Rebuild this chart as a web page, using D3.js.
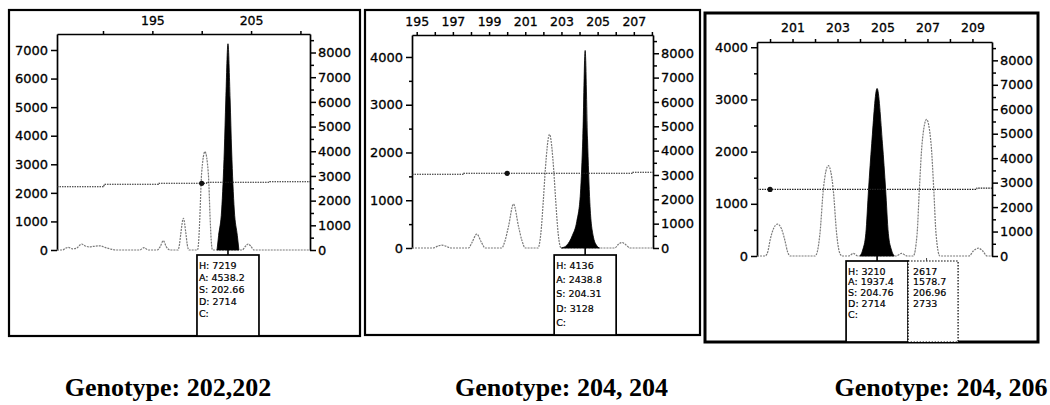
<!DOCTYPE html>
<html>
<head>
<meta charset="utf-8">
<script src="https://cdn.jsdelivr.net/npm/d3@7"></script>
<style>
  html, body { margin: 0; padding: 0; background: #fff; }
  svg { display: block; }
</style>
</head>
<body>
<svg id="chart" width="1050" height="405"></svg>
<script>
// Electropherogram panels for three genotypes.
// Each trace point is [size (bp), height (RFU)].

// ---- panel A : Genotype 202,202 ----
const sizeTicksA = [190, 195, 200, 205, 210];
const sizeLabelsA = [195, 205];
const heightTicksA = [0, 1000, 2000, 3000, 4000, 5000, 6000, 7000];
const heightMinorA = [];
const traceA = [
  [185.34, 0], [185.9, 0], [186.2, 60], [186.5, 95], [186.9, 40], [187.3, 60],
  [187.84, 210], [188.2, 140], [188.6, 110], [189.1, 130], [189.7, 145], [190.2, 90],
  [190.8, 30], [191.3, 0], [193.7, 0], [194.15, 80], [194.6, 0], [195.5, 0],
  [195.8, 120], [196.11, 330], [196.4, 120], [196.8, 0], [197.6, 0], [197.75, 200],
  [197.89, 600], [198.14, 1108], [198.39, 600], [198.53, 200], [198.7, 0], [199.57, 0],
  [199.7, 350], [199.8, 1050], [199.99, 2680], [200.33, 3441], [200.67, 2680], [200.86, 1050],
  [200.96, 350], [201.1, 0], [201.55, 0], [203.8, 0], [204.1, 0], [204.4, 120],
  [204.72, 210], [205.0, 120], [205.3, 0], [210.97, 0]
];
const peakA = [
  [201.55, 0], [201.71, 500], [202.02, 1400], [202.29, 3500], [202.44, 5250], [202.66, 7219],
  [202.88, 5250], [203.03, 3500], [203.3, 1400], [203.61, 500], [203.77, 0]
];
const thresholdA = [[185.34, 2215], [190.1, 2300], [195.6, 2335], [200.5, 2370], [206.9, 2390], [210.97, 2390]];
const calledA = [202.66];
const infoA = [["H: 7219", "A: 4538.2", "S: 202.66", "D: 2714", "C:"]];

// ---- panel B : Genotype 204, 204 ----
const sizeTicksB = [195, 196, 197, 198, 199, 200, 201, 202, 203, 204, 205, 206, 207, 208];
const sizeLabelsB = [195, 197, 199, 201, 203, 205, 207];
const heightTicksB = [0, 1000, 2000, 3000, 4000];
const heightMinorB = [500, 1500, 2500, 3500];
const traceB = [
  [194.74, 0], [195.9, 0], [196.2, 45], [196.38, 60], [196.6, 40], [196.9, 0],
  [197.86, 0], [198.05, 110], [198.32, 290], [198.59, 110], [198.78, 0], [199.7, 0],
  [199.88, 150], [200.07, 446], [200.35, 920], [200.63, 446], [200.82, 150], [201.0, 0],
  [201.7, 0], [201.86, 300], [202.0, 1005], [202.11, 1650], [202.34, 2380], [202.57, 1650],
  [202.68, 1005], [202.82, 300], [202.98, 0], [205.1, 0], [205.95, 0], [206.15, 80],
  [206.35, 115], [206.55, 70], [206.8, 0], [208.06, 0]
];
const peakB = [
  [203.0, 0], [203.3, 60], [203.6, 260], [203.85, 560], [204.05, 1150], [204.18, 2300],
  [204.31, 4136], [204.44, 2300], [204.57, 950], [204.75, 260], [204.95, 50], [205.1, 0]
];
const thresholdB = [[194.74, 1543], [197.6, 1564], [206.9, 1585], [208.06, 1585]];
const calledB = [204.31];
const infoB = [["H: 4136", "A: 2438.8", "S: 204.31", "D: 3128", "C:"]];

// ---- panel C : Genotype 204, 206 ----
const sizeTicksC = [200, 201, 202, 203, 204, 205, 206, 207, 208, 209];
const sizeLabelsC = [201, 203, 205, 207, 209];
const heightTicksC = [0, 1000, 2000, 3000, 4000];
const heightMinorC = [500, 1500, 2500, 3500];
const traceC = [
  [199.42, 0], [199.78, 0], [199.9, 80], [200.0, 300], [200.15, 520], [200.33, 612],
  [200.51, 520], [200.66, 300], [200.78, 80], [200.9, 0], [202.0, 0], [202.1, 80],
  [202.22, 434], [202.37, 1276], [202.59, 1730], [202.81, 1276], [202.96, 434], [203.08, 80],
  [203.2, 0], [203.5, 0], [203.7, 50], [203.9, 0], [205.6, 0], [205.85, 50],
  [206.1, 0], [206.37, 0], [206.54, 430], [206.64, 1280], [206.76, 2150], [206.96, 2617],
  [207.16, 2150], [207.28, 1280], [207.38, 430], [207.55, 0], [208.85, 0], [209.05, 100],
  [209.26, 150], [209.45, 100], [209.65, 0], [209.87, 0]
];
const peakC = [
  [204.0, 0], [204.12, 115], [204.26, 434], [204.38, 1276], [204.52, 2150], [204.76, 3210],
  [205.0, 2150], [205.14, 1276], [205.26, 434], [205.4, 115], [205.52, 0]
];
const thresholdC = [[199.42, 1276], [209.2, 1300], [209.87, 1300]];
const calledC = [204.76, 206.96];
const infoC = [
  ["H: 3210", "A: 1937.4", "S: 204.76", "D: 2714", "C:"],
  ["2617", "1578.7", "206.96", "2733", ""]
];

// ---- shared ----
const rightTicks = [0, 1000, 2000, 3000, 4000, 5000, 6000, 7000, 8000];
const rightMinor = [500, 1500, 2500, 3500, 4500, 5500, 6500, 7500, 8500];
const rightMax = 8750;
const markerSize = 200;
const captions = ["Genotype: 202,202", "Genotype: 204, 204", "Genotype: 204, 206"];

// ---- layout (pixels) ----
const panels = [
  { frame: [9, 10, 360, 336], fw: 2.2, plot: { l: 57, r: 310, t: 34, b: 250 },
    xDomain: [185.34, 210.97], yMax: 7560, topPad: 6, boxGap: 5, rowStep: 12.2, capX: 168,
    sizeTicks: sizeTicksA, sizeLabels: sizeLabelsA, heightTicks: heightTicksA, heightMinor: heightMinorA,
    trace: traceA, peak: peakA, threshold: thresholdA, called: calledA, info: infoA },
  { frame: [365, 10, 700, 335], fw: 2.2, plot: { l: 412, r: 653, t: 35, b: 248 },
    xDomain: [194.74, 208.06], yMax: 4460, topPad: 6, boxGap: 7, rowStep: 14.4, capX: 561.5,
    sizeTicks: sizeTicksB, sizeLabels: sizeLabelsB, heightTicks: heightTicksB, heightMinor: heightMinorB,
    trace: traceB, peak: peakB, threshold: thresholdB, called: calledB, info: infoB },
  { frame: [705, 13, 1038, 342], fw: 3, plot: { l: 757, r: 992, t: 42, b: 256 },
    xDomain: [199.42, 209.87], yMax: 4100, topPad: 7.5, boxGap: 5, rowStep: 10.8, capX: 941,
    sizeTicks: sizeTicksC, sizeLabels: sizeLabelsC, heightTicks: heightTicksC, heightMinor: heightMinorC,
    trace: traceC, peak: peakC, threshold: thresholdC, called: calledC, info: infoC }
];

const svg = d3.select('#chart');
const AXIS_FONT = '"DejaVu Sans", sans-serif';

function styleAxis(g, size) {
  g.attr('font-family', AXIS_FONT).attr('font-size', size);
  g.select('.domain').attr('stroke', '#000').attr('stroke-width', 1.7);
  g.selectAll('.tick line').attr('stroke', '#000').attr('stroke-width', 1.5);
  // scanned print looks slightly heavy
  g.selectAll('.tick text').attr('fill', '#000').attr('stroke', '#000').attr('stroke-width', 0.3);
}

function drawPanel(p, i) {
  const g = svg.append('g');
  const [fx0, fy0, fx1, fy1] = p.frame;

  // outer frame
  g.append('rect')
    .attr('x', fx0).attr('y', fy0)
    .attr('width', fx1 - fx0).attr('height', fy1 - fy0)
    .attr('fill', 'none').attr('stroke', '#000').attr('stroke-width', p.fw);

  const x = d3.scaleLinear().domain(p.xDomain).range([p.plot.l, p.plot.r]);
  const y = d3.scaleLinear().domain([0, p.yMax]).range([p.plot.b, p.plot.t]);
  const yR = d3.scaleLinear().domain([0, rightMax]).range([p.plot.b, p.plot.t]);

  // top size axis
  g.append('g')
    .attr('transform', `translate(0,${p.plot.t})`)
    .call(d3.axisTop(x).tickValues(p.sizeTicks).tickSize(3).tickSizeOuter(0).tickPadding(p.topPad)
      .tickFormat(d => p.sizeLabels.includes(d) ? d : ''))
    .call(ax => styleAxis(ax, 12.5));

  // left height axis
  g.append('g')
    .attr('transform', `translate(${p.plot.l},0)`)
    .call(d3.axisLeft(y).tickValues(p.heightTicks).tickSize(6).tickSizeOuter(0).tickPadding(3)
      .tickFormat(d3.format('d')))
    .call(ax => styleAxis(ax, 13));
  if (p.heightMinor.length) {
    g.append('g')
      .attr('transform', `translate(${p.plot.l},0)`)
      .call(d3.axisLeft(y).tickValues(p.heightMinor).tickSize(3).tickFormat(''))
      .call(ax => { ax.select('.domain').remove(); styleAxis(ax, 13); });
  }

  // right height axis
  g.append('g')
    .attr('transform', `translate(${p.plot.r},0)`)
    .call(d3.axisRight(yR).tickValues(rightTicks).tickSize(6).tickSizeOuter(0).tickPadding(2)
      .tickFormat(d3.format('d')))
    .call(ax => styleAxis(ax, 13));
  g.append('g')
    .attr('transform', `translate(${p.plot.r},0)`)
    .call(d3.axisRight(yR).tickValues(rightMinor).tickSize(4).tickFormat(''))
    .call(ax => { ax.select('.domain').remove(); styleAxis(ax, 13); });

  // grey trace
  const line = d3.line()
    .x(d => x(d[0]))
    .y(d => y(d[1]))
    .curve(d3.curveMonotoneX);
  g.append('path')
    .datum(p.trace)
    .attr('fill', 'none')
    .attr('stroke', '#7a7a7a')
    .attr('stroke-width', 1.2)
    .attr('stroke-dasharray', '2,1')
    .attr('d', line);

  // called (filled) peak
  const area = d3.area()
    .x(d => x(d[0]))
    .y0(y(0))
    .y1(d => y(d[1]))
    .curve(d3.curveMonotoneX);
  g.append('path')
    .datum(p.peak)
    .attr('fill', '#000')
    .attr('stroke', '#000')
    .attr('stroke-width', 0.8)
    .attr('d', area);

  // threshold line and marker
  g.append('path')
    .datum(p.threshold)
    .attr('fill', 'none')
    .attr('stroke', '#222')
    .attr('stroke-width', 1.1)
    .attr('stroke-dasharray', '1.5,1')
    .attr('d', d3.line().x(d => x(d[0])).y(d => y(d[1])).curve(d3.curveStepAfter));
  const markerY = p.threshold.filter(d => d[0] <= markerSize).pop()[1];
  g.append('circle')
    .attr('cx', x(markerSize)).attr('cy', y(markerY))
    .attr('r', 2.6).attr('fill', '#111');

  // info boxes
  const boxTop = p.plot.b + p.boxGap;
  const boxH = fy1 - boxTop;
  const boxL = x(p.called[0]) - 31;
  p.info.forEach((rows, k) => {
    const bx = k === 0 ? boxL : boxL + 62;
    const bw = k === 0 ? 62 : 50;
    g.append('rect')
      .attr('x', bx).attr('y', boxTop)
      .attr('width', bw).attr('height', boxH)
      .attr('fill', '#fff')
      .attr('stroke', '#000')
      .attr('stroke-width', k === 0 ? 1.7 : 1.2)
      .attr('stroke-dasharray', k === 0 ? null : '1.5,1.5');
    rows.forEach((txt, r) => {
      g.append('text')
        .attr('x', bx + (k === 0 ? 2 : 5))
        .attr('y', boxTop + 13.5 + r * p.rowStep)
        .attr('font-family', AXIS_FONT)
        .attr('font-size', 9.5)
        .attr('fill', '#000')
        .attr('stroke', '#000')
        .attr('stroke-width', 0.2)
        .text(txt);
    });
  });

  // connectors from called peaks to boxes
  p.called.forEach((s, k) => {
    g.append('line')
      .attr('x1', x(s)).attr('x2', x(s))
      .attr('y1', k === 0 ? y(0) : boxTop - 3).attr('y2', boxTop)
      .attr('stroke', k === 0 ? '#000' : '#444')
      .attr('stroke-width', k === 0 ? 1.6 : 1);
  });

  // caption
  svg.append('text')
    .attr('x', p.capX)
    .attr('y', 395.5)
    .attr('text-anchor', 'middle')
    .attr('font-family', '"Liberation Serif", "Times New Roman", serif')
    .attr('font-weight', 'bold')
    .attr('font-size', 26)
    .attr('fill', '#000')
    .text(captions[i]);
}

panels.forEach(drawPanel);
</script>
</body>
</html>
